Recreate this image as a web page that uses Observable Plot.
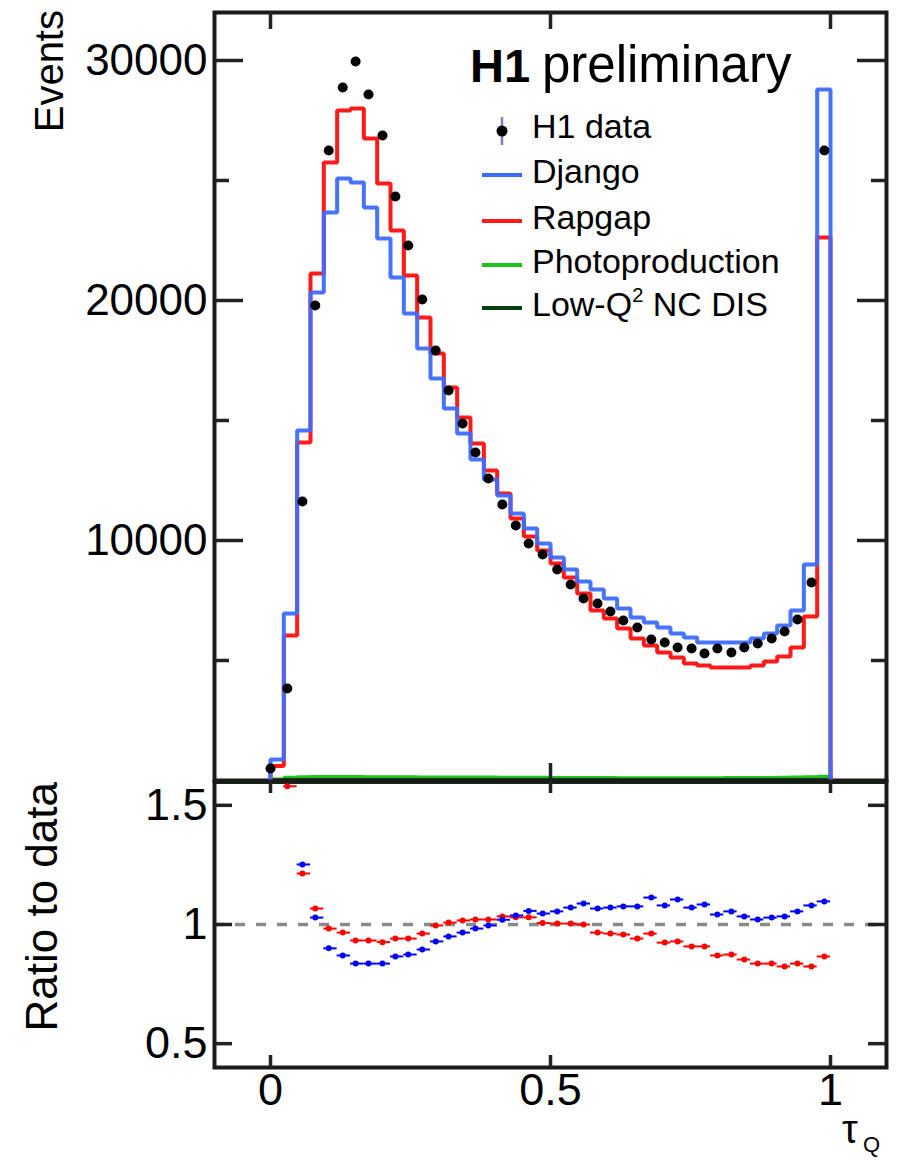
<!DOCTYPE html>
<html><head><meta charset="utf-8">
<script src="https://cdn.jsdelivr.net/npm/d3@7"></script>
<script src="https://cdn.jsdelivr.net/npm/@observablehq/plot@0.6"></script>
<style>
body{margin:0;background:#fff;}
#wrap{position:relative;width:902px;height:1161px;overflow:hidden;font-family:"Liberation Sans",Arial,sans-serif;background:#fff;}
#wrap svg{position:absolute;left:0;}
</style></head><body><div id="wrap"></div>
<script>
// ---- data ----
const edges = [0, 0.0238, 0.0476, 0.0714, 0.0952, 0.1190, 0.1429, 0.1667, 0.1905, 0.2143, 0.2381, 0.2619, 0.2857, 0.3095, 0.3333, 0.3571, 0.3810, 0.4048, 0.4286, 0.4524, 0.4762, 0.5, 0.5238, 0.5476, 0.5714, 0.5952, 0.6190, 0.6429, 0.6667, 0.6905, 0.7143, 0.7381, 0.7619, 0.7857, 0.8095, 0.8333, 0.8571, 0.8810, 0.9048, 0.9286, 0.9524, 0.9762, 1];
const tau = [0.000, 0.030, 0.057, 0.080, 0.104, 0.129, 0.152, 0.175, 0.200, 0.223, 0.246, 0.271, 0.295, 0.318, 0.343, 0.366, 0.389, 0.414, 0.438, 0.461, 0.486, 0.512, 0.536, 0.559, 0.584, 0.607, 0.630, 0.655, 0.680, 0.704, 0.727, 0.752, 0.775, 0.798, 0.823, 0.846, 0.870, 0.895, 0.918, 0.941, 0.966, 0.989];
const h1Data = [500, 3833, 11625, 19790, 26250, 28875, 29958, 28583, 26875, 24333, 22292, 20042, 17917, 16250, 14875, 13667, 12583, 11500, 10625, 9875, 9417, 8792, 8167, 7583, 7375, 7042, 6667, 6375, 5875, 5750, 5542, 5500, 5292, 5500, 5333, 5542, 5708, 5917, 6208, 6708, 8250, 26250];
const django = [875, 6958, 14583, 20333, 23667, 25083, 24917, 23875, 22583, 20958, 19458, 18000, 16750, 15500, 14458, 13375, 12542, 11875, 11125, 10500, 9875, 9292, 8792, 8292, 7958, 7583, 7167, 6792, 6583, 6375, 6125, 5958, 5750, 5750, 5750, 5750, 5917, 6125, 6458, 7083, 9000, 28792];
const rapgap = [600, 6042, 14083, 21125, 25750, 27917, 28000, 26750, 24875, 22917, 21042, 19292, 17792, 16375, 15125, 14042, 12917, 11958, 10917, 10167, 9583, 9042, 8458, 7792, 7083, 6750, 6333, 5917, 5625, 5333, 5125, 4875, 4792, 4708, 4708, 4708, 4792, 4958, 5167, 5542, 6833, 22625];
const photoprod = [40, 110, 140, 150, 150, 150, 145, 140, 140, 135, 135, 130, 130, 125, 125, 120, 120, 115, 115, 110, 110, 105, 105, 100, 100, 100, 95, 95, 95, 95, 95, 95, 95, 95, 100, 100, 100, 105, 110, 120, 140, 160];
const lowQ2 = [5, 10, 15, 15, 15, 15, 15, 15, 15, 10, 10, 10, 10, 10, 10, 10, 10, 10, 10, 10, 10, 10, 10, 10, 10, 10, 10, 10, 10, 10, 10, 10, 10, 10, 10, 10, 10, 10, 10, 10, 10, 15];
const ratioDjango = [null, null, 1.252, 1.029, 0.900, 0.870, 0.836, 0.836, 0.836, 0.866, 0.874, 0.895, 0.929, 0.950, 0.966, 0.983, 0.996, 1.020, 1.038, 1.057, 1.046, 1.055, 1.071, 1.088, 1.067, 1.071, 1.076, 1.076, 1.113, 1.080, 1.105, 1.071, 1.084, 1.042, 1.055, 1.034, 1.021, 1.029, 1.034, 1.055, 1.080, 1.097];
const ratioRapgap = [null, 1.580, 1.214, 1.067, 0.983, 0.966, 0.933, 0.933, 0.926, 0.941, 0.941, 0.962, 0.996, 1.008, 1.017, 1.021, 1.021, 1.034, 1.030, 1.030, 1.006, 1.004, 1.004, 1.000, 0.966, 0.962, 0.958, 0.941, 0.962, 0.924, 0.929, 0.908, 0.908, 0.870, 0.874, 0.853, 0.836, 0.836, 0.824, 0.836, 0.824, 0.866];
const yMajorTop = [10000, 20000, 30000];
const yMinorTop = [5000, 15000, 25000];
const xTicks = [0, 0.5, 1];
const yTicksRatio = [0.5, 1, 1.5];
const xTickLabels = ["0", "0.5", "1"];
const yTickLabelsRatio = ["0.5", "1", "1.5"];

// ---- layout ----
const ML = 214, MR = 16, W = 902;
const innerW = W - ML - MR;
const topMT = 12, topMB = 4, topH = 784, topInnerH = topH - topMT - topMB;
const botTop = 777, botMT = 4, botMB = 94, botH = 384, botInnerH = botH - botMT - botMB;
const FONT = "'Liberation Sans', Arial, sans-serif";
const tickStyle = {stroke: "#222", strokeWidth: 3.5};

function steps(vals) {
  const pts = [{x: edges[0], y: 0}];
  vals.forEach((v, i) => pts.push({x: edges[i], y: v}));
  pts.push({x: edges[edges.length - 1], y: 0});
  return pts;
}
const lineOpts = {x: "x", y: "y", curve: "step-after", strokeWidth: 4, strokeLinejoin: "miter", strokeLinecap: "butt"};
const pts = tau.map((t, i) => ({t, v: h1Data[i]}));

const topPlot = Plot.plot({
  width: W, height: topH, marginTop: topMT, marginBottom: topMB, marginLeft: ML, marginRight: MR,
  x: {domain: [-0.1, 1.1], axis: null},
  y: {domain: [0, 32000], axis: null},
  style: {fontFamily: FONT, fontSize: "44px", color: "black", background: "transparent", overflow: "visible"},
  marks: [
    Plot.line(steps(photoprod), {...lineOpts, stroke: "#1ec31e"}),
    Plot.line(steps(lowQ2), {...lineOpts, stroke: "#0b3d12"}),
    Plot.frame({stroke: "#1a1a1a", strokeWidth: 4}),
    Plot.ruleY([0], {stroke: "#0b3d12", strokeWidth: 3, dy: 2}),
    Plot.tickY(yMajorTop, {...tickStyle, insetRight: innerW - 29}),
    Plot.tickY(yMajorTop, {...tickStyle, insetLeft: innerW - 29}),
    Plot.tickY(yMinorTop, {...tickStyle, insetRight: innerW - 15}),
    Plot.tickY(yMinorTop, {...tickStyle, insetLeft: innerW - 15}),
    Plot.tickX(xTicks, {...tickStyle, insetBottom: topInnerH - 17}),
    Plot.tickX(xTicks, {...tickStyle, insetTop: topInnerH - 17}),
    Plot.axisY(yMajorTop, {tickSize: 0, tickPadding: 7, fontSize: 44, tickFormat: d => String(d), label: null}),
    Plot.line(steps(rapgap), {...lineOpts, stroke: "#ff1a1a"}),
    Plot.line(steps(django), {...lineOpts, stroke: "#3d6bff", strokeOpacity: 0.95}),
    Plot.dot(pts, {x: "t", y: "v", r: 5, fill: "black"})
  ]
});
topPlot.style.top = "0px";

const rD = tau.map((t, i) => ({t, x1: edges[i], x2: edges[i + 1], r: ratioDjango[i]})).filter(d => d.r != null);
const rR = tau.map((t, i) => ({t, x1: edges[i], x2: edges[i + 1], r: ratioRapgap[i]})).filter(d => d.r != null);

const botPlot = Plot.plot({
  width: W, height: botH, marginTop: botMT, marginBottom: botMB, marginLeft: ML, marginRight: MR,
  x: {domain: [-0.1, 1.1]},
  y: {domain: [0.4, 1.6]},
  style: {fontFamily: FONT, fontSize: "45px", color: "black", background: "transparent", overflow: "visible"},
  marks: [
    Plot.ruleY([1], {stroke: "#8a8a8a", strokeWidth: 3.5, strokeDasharray: "10,11"}),
    Plot.frame({stroke: "#1a1a1a", strokeWidth: 4}),
    Plot.tickY(yTicksRatio, {...tickStyle, insetRight: innerW - 18}),
    Plot.tickY(yTicksRatio, {...tickStyle, insetLeft: innerW - 18}),
    Plot.tickX(xTicks, {...tickStyle, insetTop: botInnerH - 12}),
    Plot.tickX(xTicks, {...tickStyle, insetBottom: botInnerH - 12}),
    Plot.axisY(yTicksRatio, {tickSize: 0, tickPadding: 7, fontSize: 45, tickFormat: (d, i) => yTickLabelsRatio[i], label: null}),
    Plot.axisX(xTicks, {tickSize: 0, tickPadding: 6, fontSize: 45, tickFormat: (d, i) => xTickLabels[i], label: null}),
    Plot.ruleY(rR, {x1: "x1", x2: "x2", y: "r", stroke: "#ff0000", strokeWidth: 2, clip: true}),
    Plot.dot(rR, {x: "t", y: "r", r: 3, fill: "#ff0000", clip: true}),
    Plot.ruleY(rD, {x1: "x1", x2: "x2", y: "r", stroke: "#0000ff", strokeWidth: 2, clip: true}),
    Plot.dot(rD, {x: "t", y: "r", r: 3, fill: "#0000ff", clip: true})
  ]
});
botPlot.style.top = botTop + "px";

const wrap = document.getElementById("wrap");
wrap.appendChild(topPlot);
wrap.appendChild(botPlot);

// ---- overlay: legend, title, axis titles ----
const ov = d3.select(wrap).append("svg")
  .attr("width", W).attr("height", 1161)
  .style("top", "0px").style("font-family", FONT);
ov.append("text").attr("transform", "translate(63,10) rotate(-90)").attr("text-anchor", "end")
  .attr("font-size", 40).text("Events");
ov.append("text").attr("transform", "translate(57,782) rotate(-90)").attr("text-anchor", "end")
  .attr("font-size", 44).text("Ratio to data");
ov.append("text").attr("x", 842).attr("y", 1143).attr("font-size", 40).text("τ");
ov.append("text").attr("x", 863).attr("y", 1152).attr("font-size", 22).text("Q");

const title = ov.append("text").attr("x", 470).attr("y", 82);
title.append("tspan").attr("font-weight", "bold").attr("font-size", 47).text("H1");
title.append("tspan").attr("x", 542).attr("font-size", 51).text("preliminary");

const legend = [
  {label: "H1 data", kind: "dot", color: "black", y: 138},
  {label: "Django", kind: "line", color: "#3d6bff", y: 183},
  {label: "Rapgap", kind: "line", color: "#ff1a1a", y: 229},
  {label: "Photoproduction", kind: "line", color: "#1ec31e", y: 273},
  {label: "Low-Q", sup: "2", rest: " NC DIS", kind: "line", color: "#0b3d12", y: 316}
];
legend.forEach(d => {
  if (d.kind === "dot") {
    ov.append("line").attr("x1", 502).attr("x2", 502).attr("y1", d.y - 21).attr("y2", d.y + 7)
      .attr("stroke", "#7c7cc4").attr("stroke-width", 2.5);
    ov.append("circle").attr("cx", 502).attr("cy", d.y - 7).attr("r", 5.5).attr("fill", d.color);
  } else {
    ov.append("line").attr("x1", 482).attr("x2", 522).attr("y1", d.y - 8).attr("y2", d.y - 8)
      .attr("stroke", d.color).attr("stroke-width", 4);
  }
  const t = ov.append("text").attr("x", 532).attr("y", d.y).attr("font-size", 34);
  t.append("tspan").text(d.label);
  if (d.sup) {
    t.append("tspan").attr("font-size", 20).attr("dy", -14).text(d.sup);
    t.append("tspan").attr("dy", 14).text(d.rest);
  }
});
</script>
</body></html>
